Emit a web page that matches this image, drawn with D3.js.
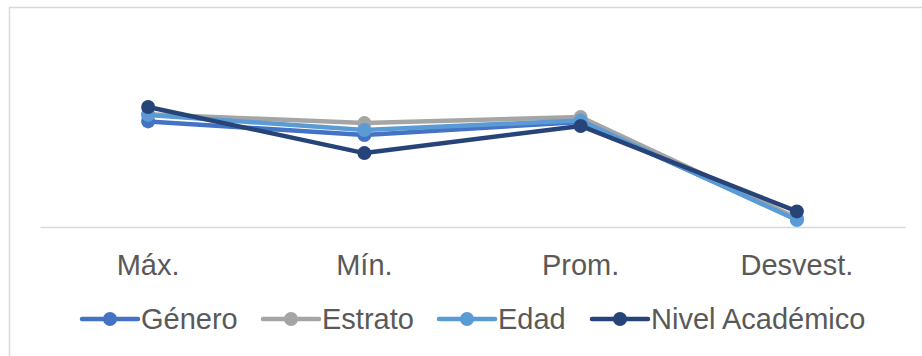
<!DOCTYPE html>
<html>
<head>
<meta charset="utf-8">
<script src="https://cdn.jsdelivr.net/npm/d3@7"></script>
<style>
  html, body { margin: 0; padding: 0; background: #fff; }
  svg { display: block; font-family: "Liberation Sans", Arial, sans-serif; }
</style>
</head>
<body>
<svg id="chart" width="922" height="356"></svg>
<script>
// Statistics per grouping variable
const categories = ["Máx.", "Mín.", "Prom.", "Desvest."];
const seriesNames = ["Género", "Estrato", "Edad", "Nivel Académico"];
const genero = [4.40, 3.83, 4.38, 0.33];
const estrato = [4.70, 4.33, 4.58, 0.37];
const edad = [4.67, 4.04, 4.44, 0.29];
const nivelAcademico = [5.00, 3.08, 4.21, 0.65];
const colors = ["#4472C4", "#A5A5A5", "#5B9BD5", "#264478"];

const series = [genero, estrato, edad, nivelAcademico].map((vals, i) => ({
  name: seriesNames[i],
  color: colors[i],
  values: vals
}));

const svg = d3.select("#chart");

// chart frame (top and left edges visible)
svg.append("path")
  .attr("d", "M9.5,356 V7.5 H922")
  .attr("fill", "none")
  .attr("stroke", "#d9d9d9")
  .attr("stroke-width", 1.5);

const x = d3.scaleBand().domain(categories).range([40, 905]);
const y = d3.scaleLinear().domain([0, 8.75]).range([227, 17]);

// category axis
const axis = svg.append("g")
  .attr("transform", `translate(0,${y(0)})`)
  .call(d3.axisBottom(x).tickSize(0).tickPadding(27));
axis.select(".domain").attr("stroke", "#d9d9d9").attr("stroke-width", 1.5);
axis.selectAll("text")
  .attr("font-size", 29)
  .attr("fill", "#595959")
  .attr("font-family", "'Liberation Sans', Arial, sans-serif");

const cx = c => x(c) + x.bandwidth() / 2;
const line = d3.line()
  .x((d, i) => cx(categories[i]))
  .y(d => y(d));

const g = svg.append("g");
series.forEach(s => {
  g.append("path")
    .datum(s.values)
    .attr("d", line)
    .attr("fill", "none")
    .attr("stroke", s.color)
    .attr("stroke-width", 4.5)
    .attr("stroke-linejoin", "round");
  g.selectAll(null)
    .data(s.values)
    .enter().append("circle")
    .attr("cx", (d, i) => cx(categories[i]))
    .attr("cy", d => y(d))
    .attr("r", 7)
    .attr("fill", s.color);
});

// legend
const legendX = [82, 263, 439, 592];
const legendY = 319;
const leg = svg.append("g");
series.forEach((s, i) => {
  const lx = legendX[i];
  leg.append("line")
    .attr("x1", lx).attr("x2", lx + 56)
    .attr("y1", legendY).attr("y2", legendY)
    .attr("stroke", s.color).attr("stroke-width", 4.5)
    .attr("stroke-linecap", "round");
  leg.append("circle")
    .attr("cx", lx + 28).attr("cy", legendY).attr("r", 7)
    .attr("fill", s.color);
  leg.append("text")
    .attr("x", lx + 59).attr("y", legendY + 10)
    .attr("font-size", 29)
    .attr("fill", "#595959")
    .text(s.name);
});
</script>
</body>
</html>
